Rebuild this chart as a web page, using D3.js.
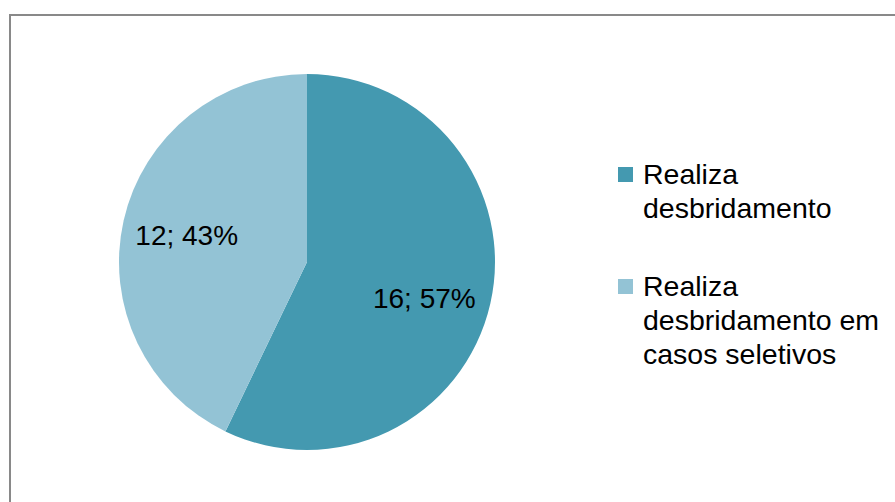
<!DOCTYPE html>
<html>
<head>
<meta charset="utf-8">
<script src="https://cdn.jsdelivr.net/npm/d3@7"></script>
<style>
  body { margin: 0; background: #fff; }
  svg text { font-family: "Liberation Sans", Arial, sans-serif; fill: #000; }
</style>
</head>
<body>
<svg id="chart"></svg>
<script>
// chart data
const categories = ["Realiza desbridamento", "Realiza desbridamento em casos seletivos"];
const values = [16, 12];
const percents = ["57%", "43%"];
const legendLines = [["Realiza", "desbridamento"], ["Realiza", "desbridamento em", "casos seletivos"]];
const colors = ["#4499b0", "#93c3d5"];

const width = 895, height = 502;
const svg = d3.select("#chart").attr("width", width).attr("height", height);

// outer frame
svg.append("rect")
    .attr("x", 10).attr("y", 15)
    .attr("width", width).attr("height", height)
    .attr("fill", "#fff")
    .attr("stroke", "#898989")
    .attr("stroke-width", 2);

const cx = 307, cy = 262, radius = 188;
const chart = svg.append("g").attr("transform", `translate(${cx}, ${cy})`);

const pie = d3.pie().sort(null).value(d => d);
const arcs = pie(values);

const arc = d3.arc().innerRadius(0).outerRadius(radius);
const labelArc = d3.arc().innerRadius(radius * 0.64).outerRadius(radius * 0.64);

chart.selectAll("path")
    .data(arcs)
    .enter()
    .append("path")
    .attr("d", arc)
    .attr("fill", (d, i) => colors[i]);

// small tweak so labels sit where excel put them
const nudge = [[0, 9], [-3, 0]];

chart.selectAll("text.label")
    .data(arcs)
    .enter()
    .append("text")
    .attr("class", "label")
    .attr("transform", (d, i) => {
        let c = labelArc.centroid(d);
        return `translate(${c[0] + nudge[i][0]}, ${c[1] + nudge[i][1]})`;
    })
    .attr("text-anchor", "middle")
    .attr("dy", "0.35em")
    .style("font-size", "28px")
    .text((d, i) => `${values[i]}; ${percents[i]}`);

// legend
const legend = svg.append("g").attr("transform", "translate(618, 0)");
const entryTop = [165, 277];
const lineH = 34;

legendLines.forEach((lines, i) => {
    let g = legend.append("g").attr("transform", `translate(0, ${entryTop[i]})`);
    g.append("rect")
        .attr("x", 0).attr("y", 2)
        .attr("width", 15).attr("height", 15)
        .attr("fill", colors[i]);
    lines.forEach((t, j) => {
        g.append("text")
            .attr("x", 25)
            .attr("y", 19 + j * lineH)
            .style("font-size", "28.5px")
            .text(t);
    });
});
</script>
</body>
</html>
